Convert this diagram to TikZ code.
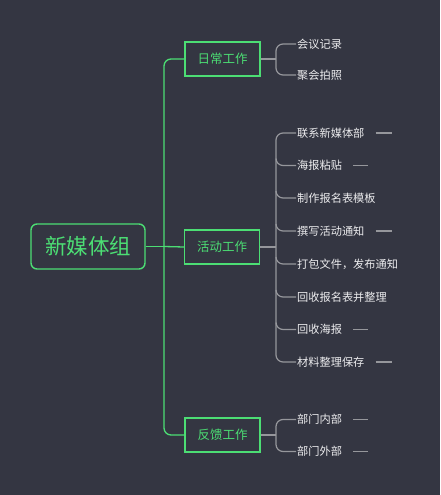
\documentclass[tikz,border=0pt]{standalone}
\usepackage{fontspec}
\setmainfont{Noto Sans CJK SC}
\definecolor{bgdark}{RGB}{52,54,66}
\definecolor{mapgreen}{RGB}{76,222,116}
\definecolor{linegray}{RGB}{150,151,156}
\definecolor{leafwhite}{RGB}{236,236,238}
\begin{document}
\begin{tikzpicture}[x=1pt,y=-1pt,
	root/.style={ draw=mapgreen, line width=1.4pt, rounded corners=6pt, text=mapgreen, minimum width=114pt, minimum height=45pt, inner sep=0pt, font=\fontsize{21.5}{22}\selectfont },
	topic/.style={ draw=mapgreen, line width=1.3pt, text=mapgreen, minimum width=75pt, minimum height=34pt, inner sep=0pt, font=\fontsize{12.5}{13}\selectfont },
	leaf/.style={ anchor=west, text=leafwhite, inner sep=1pt, font=\fontsize{11.2}{12}\selectfont },
	gline/.style={ draw=mapgreen, line width=1.3pt, rounded corners=7pt },
	hline/.style={ draw=linegray, line width=1.2pt, rounded corners=7pt },
	tail/.style={ draw=linegray, line width=1.2pt }
]
\fill[bgdark] (0,0) rectangle (440,495);
\useasboundingbox (0,0) rectangle (440,495);

\node[root] at (88,246.5) (xmt) {新媒体组};
\node[topic] at (222.5,59) (rc) {日常工作};
\node[topic] at (222,247) (hd) {活动工作};
\node[topic] at (222.5,435) (fk) {反馈工作};

\coordinate (gj) at (164,246.5);
\draw[gline] (xmt.east) -- (gj);
\draw[gline] (rc.west) -| (gj) |- (fk.west);
\draw[gline] (gj) -- (hd.west);

\begin{scope}
	\node[leaf] at (296,44) (rc1) {会议记录};
	\node[leaf] at (296,75) (rc2) {聚会拍照};
	\coordinate (rcj) at (276,59);
	\draw[hline] (rc.east) -- (rcj);
	\draw[hline] (rc1.west) -| (rcj) |- (rc2.west);
\end{scope}

\begin{scope}
	\node[leaf] at (296,133) (hd1) {联系新媒体部};
	\node[leaf] at (296,165.5) (hd2) {海报粘贴};
	\node[leaf] at (296,198) (hd3) {制作报名表模板};
	\node[leaf] at (296,231) (hd4) {撰写活动通知};
	\node[leaf] at (296,264) (hd5) {打包文件，发布通知};
	\node[leaf] at (296,297) (hd6) {回收报名表并整理};
	\node[leaf] at (296,329.5) (hd7) {回收海报};
	\node[leaf] at (296,362) (hd8) {材料整理保存};
	\coordinate (hdj) at (276,247);
	\draw[hline] (hd.east) -- (hdj);
	\draw[hline] (hd1.west) -| (hdj) |- (hd8.west);
	\foreach \i in {2,...,7}
		\draw[hline] (hdj |- hd\i.west) ++(0,-7) |- (hd\i.west);
	\draw[tail] ([xshift=10pt]hd1.east) -- ++(16,0);
	\draw[tail] ([xshift=10pt]hd2.east) -- ++(15,0);
	\draw[tail] ([xshift=10pt]hd4.east) -- ++(16,0);
	\draw[tail] ([xshift=10pt]hd7.east) -- ++(15,0);
	\draw[tail] ([xshift=10pt]hd8.east) -- ++(16,0);
\end{scope}

\begin{scope}
	\node[leaf] at (296,419.5) (fk1) {部门内部};
	\node[leaf] at (296,451.5) (fk2) {部门外部};
	\coordinate (fkj) at (276,435);
	\draw[hline] (fk.east) -- (fkj);
	\draw[hline] (fk1.west) -| (fkj) |- (fk2.west);
	\draw[tail] ([xshift=10pt]fk1.east) -- ++(15,0);
	\draw[tail] ([xshift=10pt]fk2.east) -- ++(15,0);
\end{scope}

\end{tikzpicture}
\end{document}
